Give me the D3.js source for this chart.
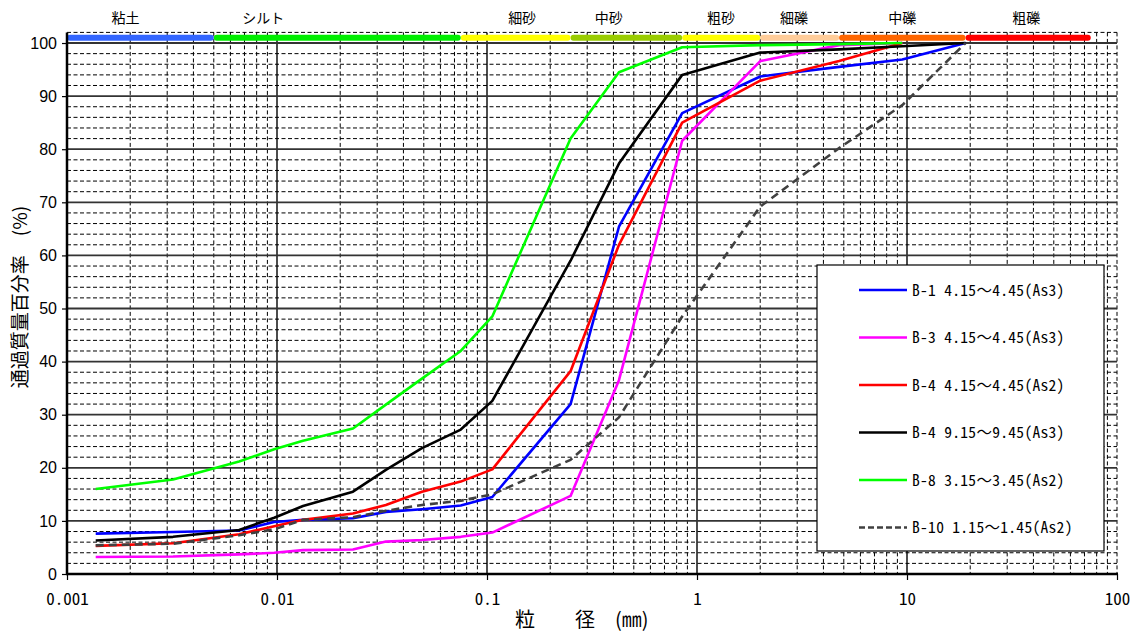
<!DOCTYPE html>
<html>
<head>
<meta charset="utf-8">
<script src="https://cdn.jsdelivr.net/npm/d3@7"></script>
<style>
body { margin: 0; background: #fff; }
svg { display: block; }
</style>
</head>
<body>
<svg id="chart" width="1136" height="632"></svg>
<script>
// grain sizes (mm), sieve + hydrometer
const sizes = [0.00137, 0.0032, 0.0066, 0.0097, 0.0133, 0.023, 0.033, 0.049, 0.075, 0.106, 0.25, 0.425, 0.85, 2, 4.75, 9.5, 19]

// percent passing per sample (null = not plotted)
const b1 = [7.6, 7.9, 8.2, 9.8, 10.2, 10.5, 11.7, 12.2, 12.9, 14.5, 32.0, 65.4, 86.8, 93.7, 95.5, 96.9, 100]
const b3 = [3.2, 3.3, 3.7, 4.0, 4.5, 4.6, 6.1, 6.4, 7.0, 7.8, 14.7, 36.5, 81.6, 96.6, 99.6, 100, null]
const b4a = [5.3, 5.8, 7.5, 9.0, 10.2, 11.4, 13.0, 15.5, 17.4, 19.7, 38.2, 62.0, 85.0, 92.9, 96.6, 100, null]
const b4b = [6.3, 7.0, 8.3, 10.6, 12.8, 15.5, 19.6, 23.7, 27.2, 32.6, 59.0, 77.3, 94.0, 98.2, 98.8, 99.4, 100]
const b8 = [16.0, 17.8, 21.2, 23.5, 25.1, 27.4, 31.9, 36.8, 42.0, 48.5, 82.0, 94.5, 99.2, 99.6, 99.8, 100, null]
const b10 = [5.4, 5.7, 7.3, 8.4, 10.2, 10.7, 11.9, 13.0, 13.8, 15.0, 21.5, 29.5, 48.5, 69.2, 80.2, 88.3, 100]

const seriesNames = ['B-1 4.15～4.45(As3)', 'B-3 4.15～4.45(As3)', 'B-4 4.15～4.45(As2)', 'B-4 9.15～9.45(As3)', 'B-8 3.15～3.45(As2)', 'B-10 1.15～1.45(As2)']
const seriesValues = [b1, b3, b4a, b4b, b8, b10]
const seriesColors = ['#0000ff', '#ff00ff', '#ff0000', '#000000', '#00ff00', '#404040']
const seriesDash = [null, null, null, null, null, '8,5']

// soil classification band
const classNames = ['粘土', 'シルト', '細砂', '中砂', '粗砂', '細礫', '中礫', '粗礫']
const classBounds = [0.001, 0.005, 0.075, 0.25, 0.85, 2, 4.75, 19, 75]
const classLabelAt = [0.0019, 0.0086, 0.147, 0.38, 1.3, 2.9, 9.5, 37]
const classColors = ['#3366ff', '#00ee00', '#ffff00', '#99cc00', '#ffff00', '#ffcc99', '#ff6600', '#ff0000']

const xTicks = [0.001, 0.01, 0.1, 1, 10, 100]
const yTicks = d3.range(0, 101, 10)

const svg = d3.select('#chart')
const plotLeft = 67, plotRight = 1117, plotTop = 32.4, plotBottom = 574

const x = d3.scaleLog().domain([0.001, 100]).range([plotLeft, plotRight])
const y = d3.scaleLinear().domain([0, 102]).range([plotBottom, plotTop])

const grid = svg.append('g')

// vertical grid
const minor = []
for (let e = -3; e < 2; e++) for (let k = 2; k <= 9; k++) minor.push(k * Math.pow(10, e))
grid.selectAll('.vminor').data(minor).enter().append('line')
	.attr('x1', d => x(d)).attr('x2', d => x(d))
	.attr('y1', y(102)).attr('y2', y(0))
	.attr('stroke', '#000').attr('stroke-width', 1).attr('stroke-dasharray', '4,2.5')
grid.selectAll('.vmajor').data(xTicks.slice(1)).enter().append('line')
	.attr('x1', d => x(d)).attr('x2', d => x(d))
	.attr('y1', y(102)).attr('y2', y(0))
	.attr('stroke', '#000').attr('stroke-width', d => d == 100 ? 1 : 1.4)
	.attr('stroke-dasharray', d => d == 100 ? '4,2.5' : null)

// horizontal grid
const hvals = d3.range(2, 103, 2)
grid.selectAll('.h').data(hvals).enter().append('line')
	.attr('x1', plotLeft).attr('x2', plotRight)
	.attr('y1', d => y(d)).attr('y2', d => y(d))
	.attr('stroke', d => d % 10 == 0 && d <= 100 ? '#333' : '#000')
	.attr('stroke-width', d => d % 10 == 0 && d <= 100 ? 1.8 : 1)
	.attr('stroke-dasharray', d => d % 10 == 0 && d <= 100 ? null : '4,2.5')

// classification band
const band = svg.append('g')
const bandSegs = classColors.map((c, i) => ({ c, a: classBounds[i], b: classBounds[i + 1] })).reverse()
band.selectAll('line').data(bandSegs).enter().append('line')
	.attr('x1', d => x(d.a) + 3).attr('x2', d => x(d.b) - 3)
	.attr('y1', y(101)).attr('y2', y(101))
	.attr('stroke', d => d.c).attr('stroke-width', 6).attr('stroke-linecap', 'round')
band.selectAll('text').data(classNames).enter().append('text')
	.attr('x', (d, i) => x(classLabelAt[i]))
	.attr('y', 23)
	.attr('text-anchor', 'middle')
	.attr('font-family', "'Noto Sans CJK JP', sans-serif")
	.attr('font-size', 14)
	.text(d => d)

// curves
const line = d3.line()
	.defined(d => d[1] != null)
	.x(d => x(d[0]))
	.y(d => y(d[1]))

svg.append('g').selectAll('path').data(seriesValues).enter().append('path')
	.attr('d', vals => line(sizes.map((s, i) => [s, vals[i]])))
	.attr('fill', 'none')
	.attr('stroke', (d, i) => seriesColors[i])
	.attr('stroke-width', 2.6)
	.attr('stroke-dasharray', (d, i) => seriesDash[i])
	.attr('stroke-linejoin', 'round')

// axes
const yAxis = svg.append('g')
	.attr('transform', `translate(${plotLeft},0)`)
	.call(d3.axisLeft(y).tickValues(yTicks).tickSize(5).tickPadding(5).tickFormat(d3.format('d')))
yAxis.select('.domain').remove()
yAxis.selectAll('text').attr('font-family', "'Liberation Sans', Arial, sans-serif").attr('font-size', 16).attr('fill', '#000')
yAxis.selectAll('line').attr('stroke', '#000').attr('stroke-width', 1.2)

const xAxis = svg.append('g')
	.attr('transform', `translate(0,${plotBottom})`)
	.call(d3.axisBottom(x).tickValues(xTicks).tickSize(6).tickPadding(13).tickFormat(d => String(d)))
xAxis.select('.domain').remove()
xAxis.selectAll('text').attr('font-family', "'Noto Sans Mono CJK JP', 'Liberation Mono', monospace").attr('font-size', 17).attr('fill', '#000')
xAxis.selectAll('line').attr('stroke', '#000').attr('stroke-width', 1.2)

svg.append('line').attr('x1', plotLeft).attr('x2', plotLeft).attr('y1', y(102)).attr('y2', plotBottom + 1)
	.attr('stroke', '#000').attr('stroke-width', 2.5)
svg.append('line').attr('x1', plotLeft - 1).attr('x2', plotRight + 1).attr('y1', plotBottom).attr('y2', plotBottom)
	.attr('stroke', '#000').attr('stroke-width', 2.5)

// axis titles
svg.append('text')
	.attr('x', 515).attr('y', 627)
	.attr('font-family', "'Noto Sans CJK JP', sans-serif")
	.attr('font-size', 20)
	.text('粒　　径　(㎜)')

svg.append('text')
	.attr('transform', 'translate(27,297) rotate(-90)')
	.attr('text-anchor', 'middle')
	.attr('font-family', "'Noto Sans CJK JP', sans-serif")
	.attr('font-size', 19)
	.text('通過質量百分率　(%)')

// legend
const legend = svg.append('g')
legend.append('rect')
	.attr('x', 817).attr('y', 265).attr('width', 287).attr('height', 286)
	.attr('fill', '#fff').attr('stroke', '#000').attr('stroke-width', 1.2)

const rows = legend.selectAll('.row').data(seriesNames).enter().append('g')
	.attr('transform', (d, i) => `translate(0,${290 + i * 47.5})`)
rows.append('line')
	.attr('x1', 859).attr('x2', 907)
	.attr('stroke', (d, i) => seriesColors[i])
	.attr('stroke-width', 2.6)
	.attr('stroke-dasharray', (d, i) => seriesDash[i] ? '6,3' : null)
rows.append('text')
	.attr('x', 912).attr('y', 5.5)
	.attr('font-family', "'Noto Sans Mono CJK JP', 'Liberation Mono', monospace")
	.attr('font-size', 15.5)
	.attr('letter-spacing', 0.3)
	.text(d => d)
</script>
</body>
</html>
